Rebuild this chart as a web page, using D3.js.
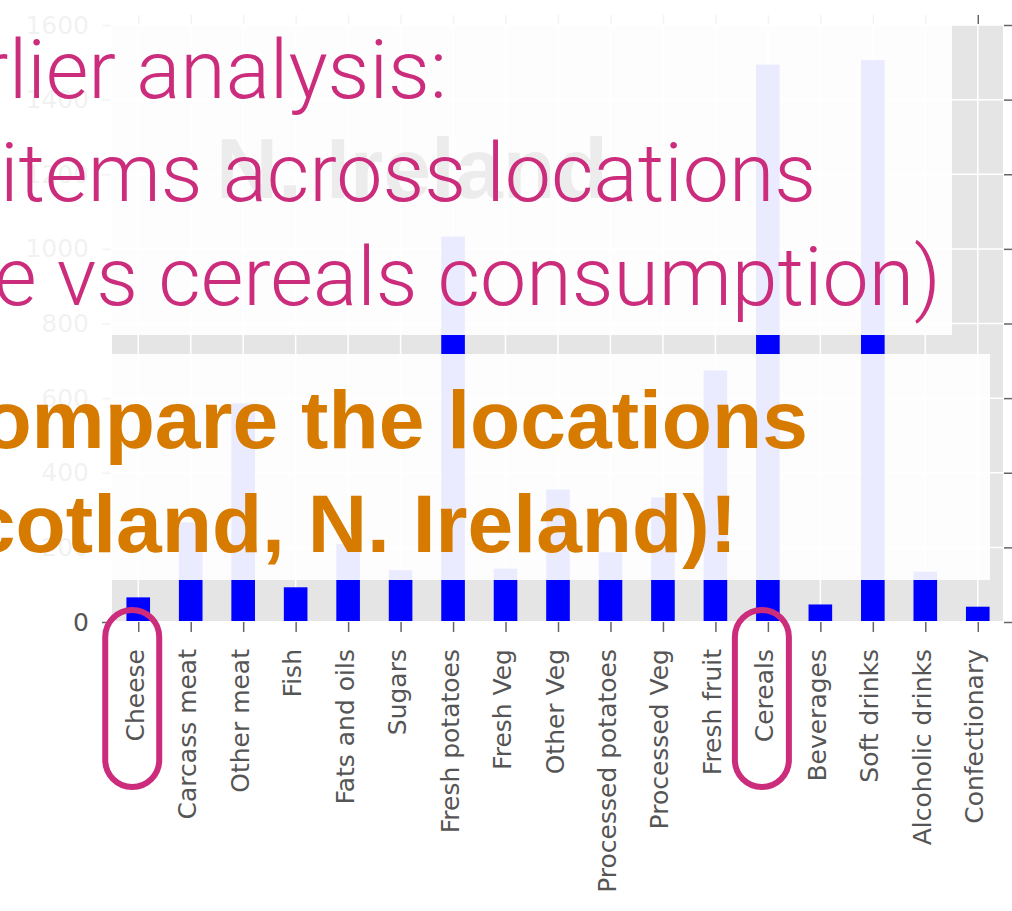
<!DOCTYPE html>
<html>
<head>
<meta charset="utf-8">
<script src="https://cdn.jsdelivr.net/npm/d3@7"></script>
<style>
  body { margin: 0; background: #fff; }
  svg { display: block; }
</style>
</head>
<body>
<script>

const categories = ['Cheese', 'Carcass meat', 'Other meat', 'Fish', 'Fats and oils', 'Sugars',
    'Fresh potatoes', 'Fresh Veg', 'Other Veg', 'Processed potatoes', 'Processed Veg',
    'Fresh fruit', 'Cereals', 'Beverages', 'Soft drinks', 'Alcoholic drinks', 'Confectionary'];
const values = [66, 267, 586, 93, 209, 139, 1033, 143, 355, 187, 334, 674, 1494, 47, 1506, 135, 41];
const yTicks = [0, 200, 400, 600, 800, 1000, 1200, 1400, 1600];
const title = 'N. Ireland';
const noteLines = ['rlier analysis:', 'items across locations', 'e vs cereals consumption)'];
const taskLines = ['ompare the locations', 'cotland, N. Ireland)!'];
const circled = ['Cheese', 'Cereals'];

const width = 1012;
const height = 911;
const plot = { left: 112, right: 1003, top: 25, bottom: 622 };

const pink = '#cb2c7c';
const orange = '#d67a00';
const tickFont = '"DejaVu Sans", sans-serif';

buildChart();


function buildChart() {

    const svg = d3.select('body')
        .append('svg')
        .attr('width', width)
        .attr('height', height);

    let x = d3.scalePoint()
        .domain(categories)
        .range([plot.left, plot.right + 1])
        .padding(0.5);

    let y = d3.scaleLinear()
        .domain([0, 1600])
        .range([plot.bottom, plot.top]);

    let barWidth = x.step() * 0.45;

    // ggplot style background
    svg.append('rect')
        .attr('x', plot.left)
        .attr('y', plot.top)
        .attr('width', plot.right - plot.left)
        .attr('height', plot.bottom - 1 - plot.top)
        .attr('fill', '#e5e5e5');

    let grid = svg.append('g')
        .attr('stroke', '#fff')
        .attr('stroke-width', 1.5);

    grid.selectAll('.hgrid')
        .data(yTicks)
        .enter()
        .append('line')
        .attr('x1', plot.left)
        .attr('x2', plot.right)
        .attr('y1', (d) => y(d))
        .attr('y2', (d) => y(d));

    grid.selectAll('.vgrid')
        .data(categories)
        .enter()
        .append('line')
        .attr('x1', (d) => x(d))
        .attr('x2', (d) => x(d))
        .attr('y1', plot.top)
        .attr('y2', plot.bottom - 1);

    svg.append('g')
        .selectAll('rect')
        .data(values)
        .enter()
        .append('rect')
        .attr('x', (d, i) => x(categories[i]) - barWidth / 2)
        .attr('y', (d) => y(d))
        .attr('width', barWidth)
        .attr('height', (d) => y(0) - y(d) - 1)
        .attr('fill', '#0000ff');

    // axes
    let left = svg.append('g')
        .attr('transform', `translate(${plot.left - 1}, 0)`)
        .call(d3.axisLeft(y).tickValues(yTicks).tickSize(9).tickPadding(13).tickFormat(d3.format('d')));

    let right = svg.append('g')
        .attr('transform', `translate(${plot.right + 1}, 0)`)
        .call(d3.axisRight(y).tickValues(yTicks).tickSize(8).tickFormat(''));

    let top = svg.append('g')
        .attr('transform', `translate(0, ${plot.top - 1})`)
        .call(d3.axisTop(x).tickSize(9).tickFormat(''));

    let bottom = svg.append('g')
        .attr('transform', `translate(0, ${plot.bottom})`)
        .call(d3.axisBottom(x).tickSize(10));

    [left, right, top, bottom].forEach((g) => {
        g.select('.domain').remove();
        g.selectAll('line')
            .attr('stroke', '#666')
            .attr('stroke-width', 1.5);
        g.selectAll('text')
            .attr('fill', '#555')
            .attr('font-family', tickFont)
            .attr('font-size', 25);
    });

    bottom.selectAll('text')
        .attr('transform', 'rotate(-90)')
        .attr('text-anchor', 'end')
        .attr('x', -27)
        .attr('y', 0)
        .attr('dy', '0.2em');

    // chart title, sits under the overlay
    let t = svg.append('text')
        .attr('x', 216)
        .attr('y', 198)
        .attr('font-family', '"Liberation Sans", Arial, sans-serif')
        .attr('font-weight', 'bold')
        .attr('font-size', 80)
        .attr('fill', '#111')
        .text(title);
    fitText(t, 392);

    // translucent slide boxes
    svg.append('rect')
        .attr('x', 0).attr('y', 0)
        .attr('width', 952).attr('height', 335)
        .attr('fill', '#fff')
        .attr('fill-opacity', 0.92);

    svg.append('rect')
        .attr('x', 0).attr('y', 354)
        .attr('width', 990).attr('height', 226)
        .attr('fill', '#fff')
        .attr('fill-opacity', 0.92);

    // pink note
    let probe = svg.append('text')
        .attr('font-family', '"Helvetica Neue", Roboto, sans-serif')
        .attr('font-weight', 300)
        .attr('font-size', 80)
        .text(noteLines[1]);
    let noteSize = 80 * 816 / probe.node().getComputedTextLength();
    probe.remove();

    const noteEnds = [447, 816, 941];
    const noteBase = [98, 201, 305];
    svg.append('g')
        .selectAll('text')
        .data(noteLines)
        .enter()
        .append('text')
        .attr('x', (d, i) => noteEnds[i])
        .attr('y', (d, i) => noteBase[i])
        .attr('text-anchor', 'end')
        .attr('font-family', '"Helvetica Neue", Roboto, sans-serif')
        .attr('font-weight', 300)
        .attr('font-size', noteSize)
        .attr('fill', pink)
        .text((d) => d);

    // orange task
    probe = svg.append('text')
        .attr('font-family', '"Helvetica Neue", "Liberation Sans", Arial, sans-serif')
        .attr('font-weight', 'bold')
        .attr('font-size', 80)
        .text('the locations');
    let taskSize = 80 * 507 / probe.node().getComputedTextLength();
    probe.remove();

    const taskEnds = [808, 737];
    const taskBase = [448, 552];
    svg.append('g')
        .selectAll('text')
        .data(taskLines)
        .enter()
        .append('text')
        .attr('x', (d, i) => taskEnds[i])
        .attr('y', (d, i) => taskBase[i])
        .attr('text-anchor', 'end')
        .attr('font-family', '"Helvetica Neue", "Liberation Sans", Arial, sans-serif')
        .attr('font-weight', 'bold')
        .attr('font-size', taskSize)
        .attr('fill', orange)
        .text((d) => d);

    // rounded marks round the two compared labels
    svg.append('g')
        .selectAll('rect')
        .data(circled)
        .enter()
        .append('rect')
        .attr('x', (d) => x(d) - 33)
        .attr('y', 610)
        .attr('width', 54)
        .attr('height', 177)
        .attr('rx', 27)
        .attr('fill', 'none')
        .attr('stroke', pink)
        .attr('stroke-width', 6);

}


function fitText(sel, w) {
    const fs = parseFloat(sel.attr('font-size'));
    sel.attr('font-size', fs * w / sel.node().getComputedTextLength());
}

</script>
</body>
</html>
